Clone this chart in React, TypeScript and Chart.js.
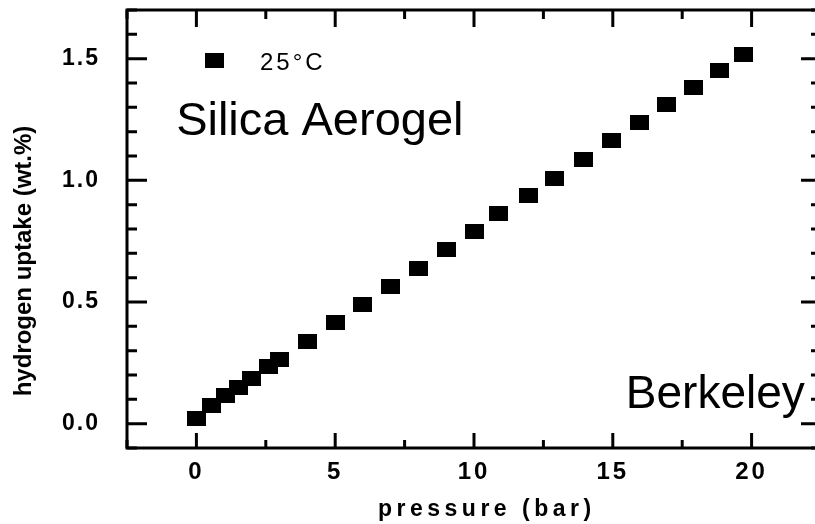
import React, { useEffect, useRef } from "react";
import { Chart, registerables } from "chart.js";

Chart.register(...registerables);

// ---- data ----
const pressure = [0, 0.55, 1.05, 1.5, 2.0, 2.6, 3.0, 4, 5, 6, 7, 8, 9, 10, 10.9, 11.95, 12.9, 13.95, 14.95, 15.95, 16.95, 17.9, 18.85, 19.7];
const uptake = [0.02, 0.075, 0.115, 0.15, 0.185, 0.233, 0.263, 0.339, 0.414, 0.489, 0.564, 0.639, 0.714, 0.789, 0.864, 0.937, 1.009, 1.085, 1.162, 1.238, 1.31, 1.383, 1.453, 1.516];
const seriesLabel = "25°C";
const xTickLabels = [0, 5, 10, 15, 20];
const yTickLabels = ["0.0", "0.5", "1.0", "1.5"];
const xTitle = "pressure (bar)";
const yTitle = "hydrogen uptake (wt.%)";
const annotations = [
  { text: "Silica Aerogel", x: -0.73, y: 1.187 },
  { text: "Berkeley", x: 15.47, y: 0.065 },
];

const FONT = "'Liberation Sans', Arial, Helvetica, sans-serif";

function makeMarker() {
  const c = document.createElement("canvas");
  c.width = 19;
  c.height = 15;
  const g = c.getContext("2d")!;
  g.fillStyle = "#000";
  g.fillRect(0, 0, 19, 15);
  return c;
}

const spacingPlugin = {
  id: "spacing",
  beforeDraw(chart: any) {
    const spacings: Record<string, string> = { x: "3px", y: "2px" };
    Object.keys(spacings).forEach((id) => {
      const s = chart.scales[id];
      if (s && !s._spWrapped) {
        const orig = s.drawLabels;
        s.drawLabels = function (area: any) {
          const c = this.ctx;
          c.save();
          c.letterSpacing = spacings[id];
          orig.call(this, area);
          c.restore();
        };
        s._spWrapped = true;
      }
    });
  },
};

const framePlugin = {
  id: "frame",
  afterDraw(chart: any) {
    const ctx = chart.ctx;
    const { left, right, top, bottom } = chart.chartArea;
    const xs = chart.scales.x;
    const ys = chart.scales.y;
    ctx.save();
    ctx.strokeStyle = "#000";
    ctx.lineWidth = 3;
    ctx.lineCap = "butt";
    ctx.beginPath();
    xs.ticks.forEach((t: any) => {
      const px = xs.getPixelForValue(t.value);
      const major = xTickLabels.includes(Math.round(t.value * 100) / 100);
      const lb = major ? 15 : 8;
      const lt = major ? 17 : 9;
      ctx.moveTo(px, bottom);
      ctx.lineTo(px, bottom - lb);
      ctx.moveTo(px, top);
      ctx.lineTo(px, top + lt);
    });
    ys.ticks.forEach((t: any) => {
      const py = ys.getPixelForValue(t.value);
      const r = Math.round(t.value * 10);
      const major = r % 5 === 0;
      const l = major ? 20 : 10;
      ctx.moveTo(left, py);
      ctx.lineTo(left + l, py);
      ctx.moveTo(right, py);
      ctx.lineTo(right - l, py);
    });
    ctx.stroke();
    ctx.lineWidth = 3;
    ctx.strokeRect(left, top, right - left, bottom - top);

    // annotations
    ctx.fillStyle = "#000";
    ctx.textBaseline = "alphabetic";
    ctx.textAlign = "left";
    annotations.forEach((a, i) => {
      ctx.font = `${i === 0 ? 47 : 46}px ${FONT}`;
      ctx.fillText(a.text, xs.getPixelForValue(a.x), ys.getPixelForValue(a.y));
    });

    // legend
    const ds = chart.data.datasets[0];
    const marker = ds.pointStyle;
    ctx.drawImage(marker, 214 - marker.width / 2, 60 - marker.height / 2);
    ctx.font = `24px ${FONT}`;
    (ctx as any).letterSpacing = "3px";
    ctx.fillText(ds.label, 260, 70);

    // axis titles
    ctx.font = `bold 23px ${FONT}`;
    (ctx as any).letterSpacing = "4.5px";
    ctx.textAlign = "left";
    ctx.fillText(xTitle, 378, 516);
    (ctx as any).letterSpacing = "0px";
    ctx.save();
    ctx.translate(31, 261);
    ctx.rotate(-Math.PI / 2);
    ctx.textAlign = "center";
    ctx.font = `bold 24px ${FONT}`;
    ctx.fillText(yTitle, 0, 0);
    ctx.restore();
    ctx.restore();
  },
};

export default function App() {
  const ref = useRef<HTMLCanvasElement | null>(null);
  useEffect(() => {
    if (!ref.current) return;
    const marker = makeMarker();
    const chart = new Chart(ref.current, {
      type: "scatter",
      data: {
        datasets: [
          {
            label: seriesLabel,
            data: pressure.map((p, i) => ({ x: p, y: uptake[i] })),
            pointStyle: marker as any,
            pointRadius: 8,
            backgroundColor: "#000",
            borderColor: "#000",
            showLine: false,
          },
        ],
      },
      options: {
        animation: false,
        responsive: false,
        devicePixelRatio: 1,
        layout: { autoPadding: false, padding: { top: 10, right: 9, left: 0, bottom: 0 } },
        plugins: { legend: { display: false }, tooltip: { enabled: false } },
        scales: {
          x: {
            type: "linear",
            min: -2.5,
            max: 22.5,
            afterFit: (s: any) => {
              s.height = 76;
              s.paddingLeft = 0;
              s.paddingRight = 0;
            },
            grid: { display: false, drawTicks: false },
            border: { display: false },
            ticks: {
              stepSize: 2.5,
              autoSkip: false,
              maxRotation: 0,
              padding: 10,
              color: "#000",
              font: { family: FONT, size: 24, weight: "bold" },
              callback: (v: any) => {
                const n = Math.round(Number(v) * 100) / 100;
                return xTickLabels.includes(n) ? String(n) : "";
              },
            },
          },
          y: {
            type: "linear",
            min: -0.1,
            max: 1.7,
            afterFit: (s: any) => {
              s.width = 127;
              s.paddingTop = 0;
              s.paddingBottom = 0;
            },
            grid: { display: false, drawTicks: false },
            border: { display: false },
            ticks: {
              stepSize: 0.1,
              autoSkip: false,
              padding: 27,
              color: "#000",
              font: { family: FONT, size: 23, weight: "bold" },
              callback: (v: any) => {
                const s = (Math.round(Number(v) * 10) / 10).toFixed(1);
                return yTickLabels.includes(s) ? s : "";
              },
            },
          },
        },
      },
      plugins: [spacingPlugin, framePlugin],
    });
    return () => chart.destroy();
  }, []);
  return (
    <div
      style={{
        position: "fixed",
        left: 0,
        top: 0,
        width: 815,
        height: 524,
        overflow: "hidden",
        background: "#fff",
      }}
    >
      <canvas ref={ref} width={830} height={524} style={{ display: "block" }} />
    </div>
  );
}
